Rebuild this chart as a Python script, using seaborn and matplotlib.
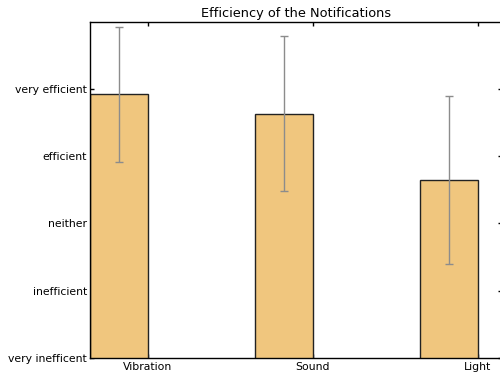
import matplotlib
matplotlib.use("Agg")
import matplotlib.pyplot as plt
import seaborn as sns
import pandas as pd

# Mean ratings (1 = very inefficient ... 5 = very efficient) and their spread
modes = ["Vibration", "Sound", "Light"]
mean_rating = [4.92, 4.63, 3.65]
std_rating = [1.0, 1.15, 1.25]
rating_labels = ["very inefficent", "inefficient", "neither", "efficient", "very efficient"]
rating_ticks = [1, 2, 3, 4, 5]

df = pd.DataFrame({"mode": modes, "rating": mean_rating})

sns.set_style("white")
plt.rcParams["font.family"] = ["DejaVu Sans"]
plt.rcParams["text.color"] = "black"
plt.rcParams["xtick.color"] = "black"
plt.rcParams["ytick.color"] = "black"

fig = plt.figure(figsize=(5, 3.75), dpi=100)
ax = fig.add_axes([0.18, 0.0453, 0.825, 0.897])

bar_w = 0.35
sns.barplot(data=df, x="mode", y="rating", width=bar_w, color="#f0c67e",
            saturation=1, edgecolor="#222222", linewidth=1.0, errorbar=None, ax=ax)

# shift bars so their left edge sits on the category position
for patch in ax.patches:
    patch.set_x(patch.get_x() + bar_w / 2)

centers = [i + bar_w / 2 for i in range(len(modes))]
ax.errorbar(centers, mean_rating, yerr=std_rating, fmt="none",
            ecolor="#8c8c8c", elinewidth=1.0, capsize=3, capthick=1.0, zorder=3)

ax.set_xlim(0, 2.5)
ax.set_ylim(1, 6)
ax.set_xticks([i + bar_w for i in range(len(modes))])
ax.set_xticklabels(modes, fontsize=7.8, color="black")
ax.set_yticks(rating_ticks)
ax.set_yticklabels(rating_labels, fontsize=7.8, color="black")
ax.set_xlabel("")
ax.set_ylabel("")
ax.set_title("Efficiency of the Notifications", fontsize=9.3, pad=3, color="black")

for s in ax.spines.values():
    s.set_visible(True)
    s.set_color("black")
    s.set_linewidth(1.0)

ax.tick_params(axis="both", direction="in", length=3, width=1, color="black",
               top=True, right=True, bottom=True, left=True)
ax.tick_params(axis="x", pad=3)
ax.tick_params(axis="y", pad=2)

fig.savefig("out.png", dpi=100)
